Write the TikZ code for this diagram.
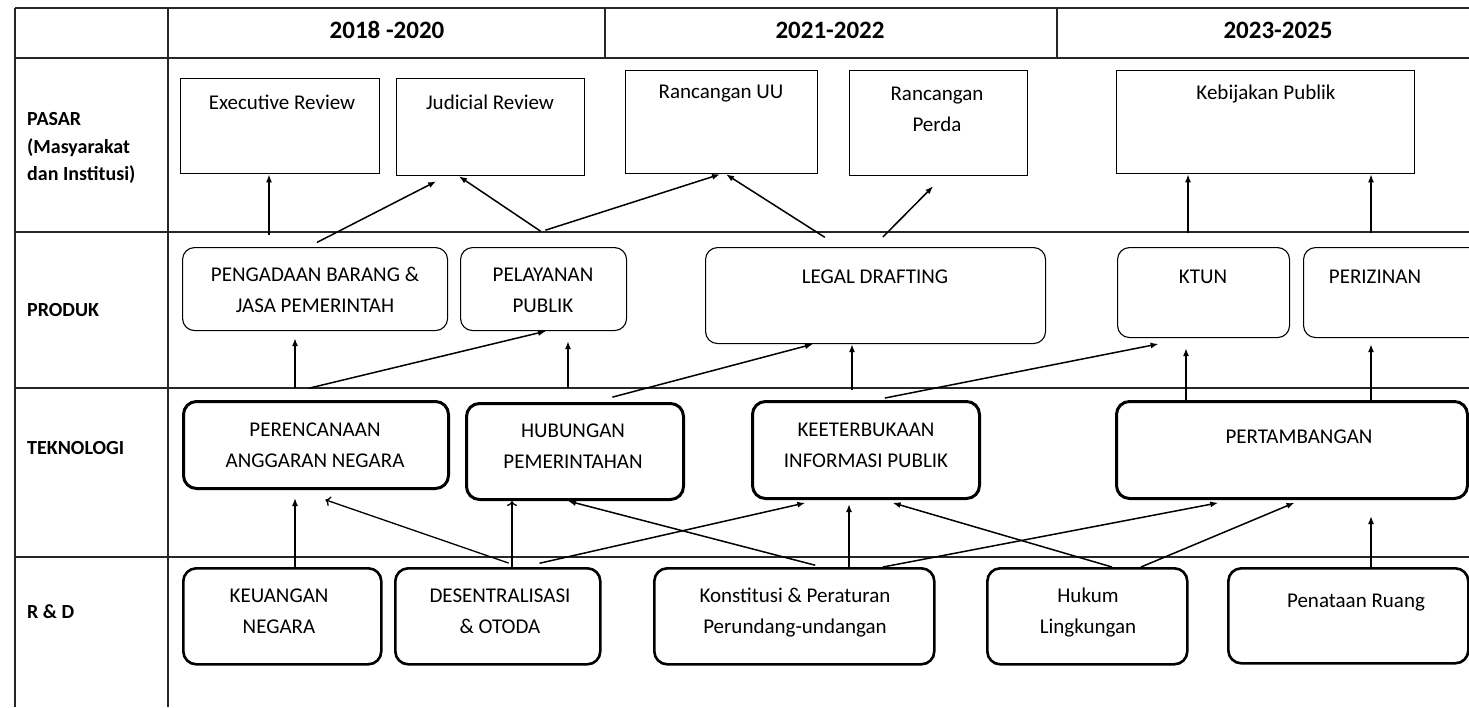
\documentclass[tikz,border=0pt]{standalone}
\usepackage{fontspec}
\setmainfont{Carlito}
\usetikzlibrary{arrows.meta,calc}
\begin{document}
\begin{tikzpicture}[x=1pt,y=-1pt,
  grid/.style={line width=1.6pt, draw=black!85},
  mbox/.style={draw, line width=1.3pt, rectangle, inner sep=0pt, anchor=north west},
  pbox/.style={draw, line width=1.1pt, rounded corners=12pt, inner sep=0pt, anchor=north west},
  tbox/.style={draw, line width=3pt, rounded corners=13pt, inner sep=0pt, anchor=north west},
  rbox/.style={draw, line width=2.6pt, rounded corners=13pt, inner sep=0pt, anchor=north west},
  txt/.style={font=\fontsize{21}{31}\selectfont, align=center, inner sep=0pt},
  hdr/.style={font=\fontsize{25}{28}\selectfont\bfseries, inner sep=0pt},
  rowlab/.style={font=\fontsize{20}{27.5}\selectfont\bfseries, align=left, anchor=west, inner sep=0pt},
  arr/.style={line width=1.5pt, -{Latex[length=8pt,width=6pt]}},
  oarr/.style={line width=1.3pt, -{To[length=5pt,width=10pt]}},
]
\useasboundingbox (0,0) rectangle (1469,707);
\fill[white] (0,0) rectangle (1469,707);

% table grid
\draw[grid] (15,8) -- (1469,8);
\draw[grid] (15,58) -- (1469,58);
\draw[grid] (15,232) -- (1469,232);
\draw[grid] (15,388) -- (1469,388);
\draw[grid] (15,557) -- (1469,557);
\draw[grid] (15,8) -- (15,707);
\draw[grid] (168,8) -- (168,707);
\draw[grid] (605,8) -- (605,58);
\draw[grid] (1057,8) -- (1057,58);

% headers
\node[hdr] (h1) at (387,30) {2018 -2020};
\node[hdr] (h2) at (830,30) {2021-2022};
\node[hdr] (h3) at (1278,30) {2023-2025};

% row labels
\node[rowlab] (lpasar) at (27,148) {PASAR\\(Masyarakat\\dan Institusi)};
\node[rowlab] (lproduk) at (27,310) {PRODUK};
\node[rowlab] (ltek) at (27,448) {TEKNOLOGI};
\node[rowlab] (lrd) at (27,612) {R \& D};

% PASAR boxes
\node[mbox, minimum width=199pt, minimum height=95pt] (exec) at (180,78) {};
\node[mbox, minimum width=188pt, minimum height=97pt] (judicial) at (396,78) {};
\node[mbox, minimum width=192pt, minimum height=103pt] (ruu) at (625,70) {};
\node[mbox, minimum width=178pt, minimum height=105pt] (perda) at (849,70) {};
\node[mbox, minimum width=298pt, minimum height=103pt] (kebijakan) at (1116,70) {};
\node[txt] (texec) at (282,102) {Executive Review};
\node[txt] (tjud) at (490,102) {Judicial Review};
\node[txt] (truu) at (721,94) {Rancangan UU};
\node[txt] (tperda) at (937,109) {Rancangan\\Perda};
\node[txt] (tkeb) at (1266,94) {Kebijakan Publik};

% PRODUK boxes
\node[pbox, minimum width=265pt, minimum height=83pt] (pengadaan) at (182,247) {};
\node[pbox, minimum width=166pt, minimum height=83pt] (pelayanan) at (460,247) {};
\node[pbox, minimum width=340pt, minimum height=96pt] (legal) at (705,247) {};
\node[pbox, minimum width=172pt, minimum height=90pt] (ktun) at (1117,247) {};
\node[pbox, minimum width=190pt, minimum height=90pt] (perizinan) at (1303,247) {};
\node[txt] (tpeng) at (315,290) {PENGADAAN BARANG \&\\JASA PEMERINTAH};
\node[txt] (tpel) at (543,290) {PELAYANAN\\PUBLIK};
\node[txt] (tlegal) at (875,277) {LEGAL DRAFTING};
\node[txt] (tktun) at (1203,277) {KTUN};
\node[txt] (tperiz) at (1375,277) {PERIZINAN};

% TEKNOLOGI boxes
\node[tbox, minimum width=265pt, minimum height=87pt] (perencanaan) at (182,400) {};
\node[tbox, minimum width=217pt, minimum height=96pt] (hubungan) at (465,402) {};
\node[tbox, minimum width=227pt, minimum height=97pt] (keterbukaan) at (751,400) {};
\node[tbox, minimum width=351pt, minimum height=97pt] (pertambangan) at (1115,400) {};
\node[txt] (tpere) at (315,445) {PERENCANAAN\\ANGGARAN NEGARA};
\node[txt] (thub) at (573,446) {HUBUNGAN\\PEMERINTAHAN};
\node[txt] (tket) at (866,445) {KEETERBUKAAN\\INFORMASI PUBLIK};
\node[txt] (tper) at (1299,437) {PERTAMBANGAN};

% R&D boxes
\node[rbox, minimum width=198pt, minimum height=96pt] (keuangan) at (182,567) {};
\node[rbox, minimum width=205pt, minimum height=96pt] (desentralisasi) at (394,567) {};
\node[rbox, minimum width=280pt, minimum height=96pt] (konstitusi) at (653,567) {};
\node[rbox, minimum width=200pt, minimum height=96pt] (hukum) at (986,567) {};
\node[rbox, minimum width=240pt, minimum height=95pt] (penataan) at (1227,567) {};
\node[txt] (tkeu) at (279,611) {KEUANGAN\\NEGARA};
\node[txt] (tdes) at (500,611) {DESENTRALISASI\\\& OTODA};
\node[txt] (tkon) at (795,613) {Konstitusi \& Peraturan\\Perundang-undangan};
\node[txt] (thuk) at (1088,613) {Hukum\\Lingkungan};
\node[txt] (tpen) at (1356,603) {Penataan Ruang};

% PRODUK -> PASAR
\draw[arr, shorten <=12pt] (pengadaan.north -| 269,0) -- (exec.south -| 269,0);
\draw[arr, shorten <=10pt, shorten >=11pt] (pengadaan.north -| 308,0) -- (judicial.south -| 446,0);
\draw[arr, shorten <=28pt] (pelayanan.north -| 564,0) -- (judicial.south -| 459,0);
\draw[arr, shorten <=55pt] (pelayanan.north -| 493,0) -- (ruu.south -| 720,0);
\draw[arr, shorten <=18pt] (legal.north -| 840,0) -- (ruu.south -| 726,0);
\draw[arr, shorten <=14pt, shorten >=14pt] (legal.north -| 873,0) -- (perda.south -| 943,0);
\draw[arr, shorten <=14pt] (ktun.north -| 1188,0) -- (kebijakan.south -| 1188,0);
\draw[arr, shorten <=14pt] (perizinan.north -| 1371,0) -- (kebijakan.south -| 1371,0);

% TEKNOLOGI -> PRODUK
\draw[arr, line width=2pt, shorten <=12pt, shorten >=7pt] (perencanaan.north -| 295,0) -- (pengadaan.south -| 295,0);
\draw[arr, shorten <=50pt] (perencanaan.north -| 260,0) -- (pelayanan.south -| 546,0);
\draw[arr, shorten <=14pt, shorten >=10pt] (hubungan.north -| 568,0) -- (pelayanan.south -| 568,0);
\draw[arr, shorten <=19pt] (hubungan.north -| 594,0) -- (legal.south -| 813,0);
\draw[arr, line width=2.2pt, shorten <=10pt] (keterbukaan.north -| 852,0) -- (legal.south -| 852,0);
\draw[arr, shorten <=10pt, shorten >=30pt] (keterbukaan.north -| 875,0) -- (ktun.south -| 1188,0);
\draw[arr, shorten >=10pt] (pertambangan.north -| 1186,0) -- (ktun.south -| 1186,0);
\draw[arr, shorten >=6pt] (pertambangan.north -| 1371,0) -- (perizinan.south -| 1371,0);

% R&D -> TEKNOLOGI
\draw[arr, shorten >=8pt] (keuangan.north -| 295,0) -- (perencanaan.south -| 295,0);
\draw[oarr, shorten <=12pt, shorten >=30pt] (desentralisasi.north -| 520,0) -- (perencanaan.south -| 297,0);
\draw[oarr] (desentralisasi.north -| 512,0) -- (hubungan.south -| 512,0);
\draw[arr, shorten <=17pt, shorten >=13pt] (desentralisasi.north -| 523,0) -- (keterbukaan.south -| 818,0);
\draw[arr, shorten <=7pt] (konstitusi.north -| 822,0) -- (hubungan.south -| 568,0);
\draw[arr, shorten >=4pt] (konstitusi.north -| 849,0) -- (keterbukaan.south -| 849,0);
\draw[arr, shorten >=15pt] (konstitusi.north -| 883,0) -- (pertambangan.south -| 1233,0);
\draw[arr, shorten >=10pt] (hukum.north -| 1112,0) -- (keterbukaan.south -| 883,0);
\draw[arr, shorten >=7pt] (hukum.north -| 1141,0) -- (pertambangan.south -| 1301,0);
\draw[arr, shorten >=16pt] (penataan.north -| 1371,0) -- (pertambangan.south -| 1371,0);
\end{tikzpicture}
\end{document}
